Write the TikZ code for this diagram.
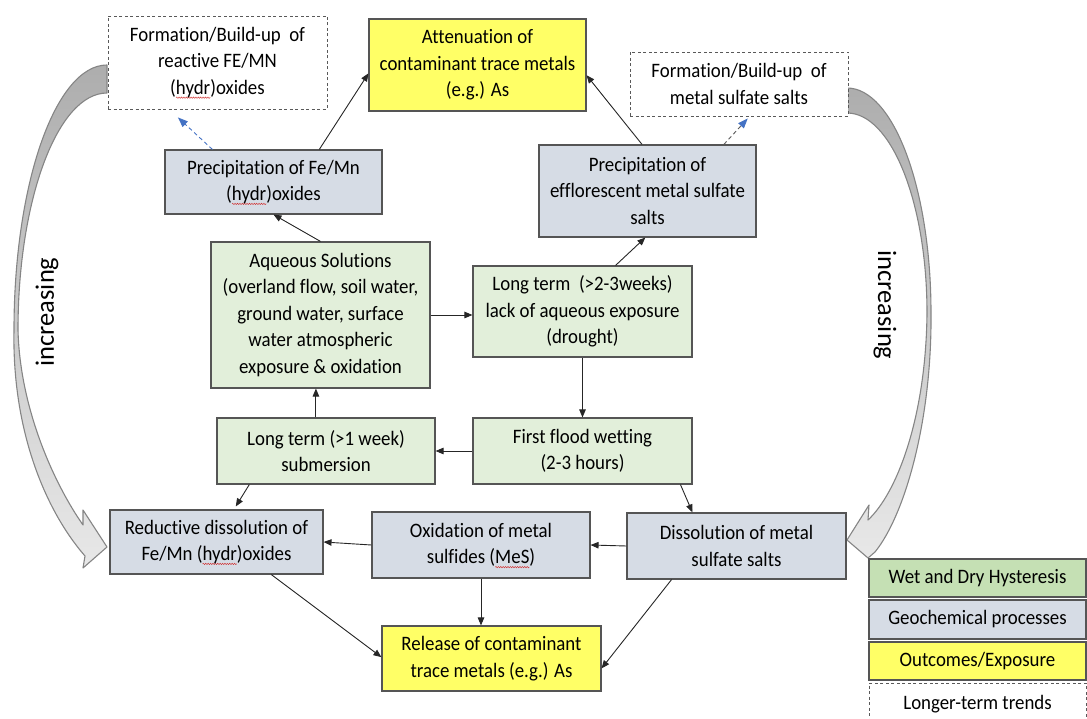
\documentclass[tikz,border=0pt]{standalone}
\usepackage{fontspec}
\setmainfont{Carlito}[FakeStretch=0.92, Ligatures={NoCommon}]
\newfontfamily\trendfont{Carlito}
\usetikzlibrary{arrows.meta,calc,decorations.pathmorphing}

\definecolor{wetfill}{HTML}{E2EFDA}
\definecolor{wetkey}{HTML}{C5E0B4}
\definecolor{geofill}{HTML}{D6DCE5}
\definecolor{outfill}{HTML}{FFFF66}
\definecolor{boxline}{HTML}{555555}
\definecolor{trendline}{HTML}{595959}
\definecolor{linkline}{HTML}{262626}
\definecolor{linkblue}{HTML}{4472C4}
\definecolor{bandline}{HTML}{858585}
\definecolor{spellred}{HTML}{D03030}

% wavy red underline as left by a spell checker
\newsavebox\spellbox
\newlength\spelllen
\newcommand\spell[1]{\sbox\spellbox{#1}\setlength\spelllen{\wd\spellbox}%
  \rlap{\tikz[overlay,baseline=0pt]\draw[spellred,line width=0.45pt,decorate,
    decoration={snake,amplitude=0.7pt,segment length=2.4pt}]
    (0pt,-3.2pt) -- (\spelllen,-3.2pt);}\usebox\spellbox}

\tikzset{
  sz/.style 2 args={minimum width=#1pt, minimum height=#2pt},
  box/.style={draw=boxline, line width=1.1pt, align=center, inner sep=1pt,
    font=\fontsize{20.5}{26.5}\selectfont, text=black},
  wet/.style={box, fill=wetfill},
  geo/.style={box, fill=geofill},
  outc/.style={box, fill=outfill},
  trend/.style={box, draw=trendline, line width=0.9pt, dash pattern=on 3pt off 2.5pt, fill=white},
  conn/.style={draw=linkline, line width=0.9pt, -{Triangle[length=8pt,width=6.5pt]}},
  trendlink/.style={draw=linkblue, line width=0.9pt, dash pattern=on 4pt off 3pt,
    -{Triangle[length=10pt,width=7.5pt]}},
  trendlinkgray/.style={draw=trendline, line width=0.9pt, dash pattern=on 4pt off 3pt,
    -{Triangle[length=10pt,width=7.5pt,color=linkblue]}},
  bigarrow/.style={draw=bandline, line width=1.1pt, line join=round,
    top color=black!32, bottom color=black!9},
  trendword/.style={font=\trendfont\fontsize{26.5}{30}\selectfont, text=black}
}

\begin{document}
\begin{tikzpicture}[x=1pt, y=-1pt]
\useasboundingbox (0,0) rectangle (1087,719);

% curved trend bands
\path[bigarrow] (107,65) .. controls (55.6,65) and (14,183.6) .. (14,330)
  .. controls (12,430) and (45,510) .. (85,556)
  -- (83,568) -- (107,547) -- (83,510) -- (83,525)
  .. controls (55,485) and (20,410) .. (18,330)
  .. controls (18,199.1) and (57.8,93) .. (107,93) -- cycle;
\path[bigarrow] (847,88) .. controls (893.4,88) and (931,188.7) .. (931,313)
  .. controls (932,420) and (905,515) .. (875,552)
  -- (868,558) -- (847,540) -- (869,505) -- (868,520)
  .. controls (898,492) and (926,415) .. (927,313)
  .. controls (927,202.5) and (891.2,113) .. (847,113) -- cycle;

\node[trendword, rotate=90] (incL) at (47,312) {increasing};
\node[trendword, rotate=-90] (incR) at (885,305) {increasing};

% process boxes
\node[trend, sz={219}{93}] (fe) at (217.5,62.5) {Formation/Build-up\ \ of\\reactive FE/MN\\(\spell{hydr})oxides};
\node[outc, sz={217}{92}] (att) at (477.5,65) {Attenuation of\\contaminant trace metals\\(e.g.) As};
\node[trend, sz={218}{64}] (sulf) at (739,84) {Formation/Build-up\ \ of\\metal sulfate salts};
\node[geo, sz={217}{64}] (pfe) at (273.5,182) {Precipitation of Fe/Mn\\(\spell{hydr})oxides};
\node[geo, sz={217}{92}] (peff) at (647.5,191) {Precipitation of\\efflorescent metal sulfate\\salts};
\node[wet, sz={219}{146}] (aq) at (320.5,315) {Aqueous Solutions\\(overland flow, soil water,\\ground water, surface\\water atmospheric\\exposure \& oxidation};
\node[wet, sz={219}{91}] (dry) at (582.5,311.5) {Long term\ \ (>2-3weeks)\\lack of aqueous exposure\\(drought)};
\node[wet, sz={218}{66}] (sub) at (326,451) {Long term (>1 week)\\submersion};
\node[wet, sz={219}{66}] (flood) at (582.5,451) {First flood wetting\\(2-3 hours)};
\node[geo, sz={213}{64}] (red) at (216.5,542) {Reductive dissolution of\\Fe/Mn (\spell{hydr})oxides};
\node[geo, sz={218}{66}] (ox) at (481,545) {Oxidation of metal\\sulfides (\spell{MeS})};
\node[geo, sz={219}{66}] (dis) at (736.5,546) {Dissolution of metal\\sulfate salts};
\node[outc, sz={219}{65}] (rel) at (491.5,658.5) {Release of contaminant\\trace metals (e.g.) As};

% key
\node[wet, fill=wetkey, sz={217}{38}] (k1) at (977.5,578) {Wet and Dry Hysteresis};
\node[geo, sz={217}{39}] (k2) at (977.5,619.5) {Geochemical processes};
\node[outc, sz={217}{38}] (k3) at (977.5,661) {Outcomes/Exposure};
\node[trend, sz={217}{42}] (k4) at (977.5,704) {Longer-term trends};

% connectors
\draw[conn] ($(pfe.north west)!0.71!(pfe.north east)$) -- ($(att.north west)!0.59!(att.south west)$);
\draw[conn] (aq.north) -- (pfe.south);
\draw[trendlink] ($(pfe.north west)!0.22!(pfe.north east)$) -- ($(fe.south west)!0.32!(fe.south east)+(0,8)$);
\draw[conn] ($(peff.north west)!0.475!(peff.north east)$) -- ($(att.north east)!0.61!(att.south east)$);
\draw[trendlinkgray] ($(peff.north west)!0.85!(peff.north east)$) -- ($(sulf.south west)!0.54!(sulf.south east)+(0,2)$);
\draw[conn] ($(dry.north west)!0.65!(dry.north east)$) -- ($(peff.south west)!0.49!(peff.south east)$);
\draw[conn] (aq.east) -- (aq.east -| dry.west);
\draw[conn] (dry.south) -- (flood.north);
\draw[conn] (flood.west) -- (sub.east);
\draw[conn] ($(sub.north west)!0.454!(sub.north east)$) coordinate (s1) -- (s1 |- aq.south);
\draw[conn] ($(sub.south west)!0.15!(sub.south east)$) -- ($(red.north west)!0.59!(red.north east)+(0,-3)$);
\draw[conn] ($(flood.south west)!0.945!(flood.south east)$) -- ($(dis.north west)!0.30!(dis.north east)$);
\draw[conn] (dis.west) -- (ox.east);
\draw[conn] (ox.west) -- (red.east);
\draw[conn] ($(red.south west)!0.756!(red.south east)$) -- ($(rel.north west)!0.48!(rel.south west)$);
\draw[conn] (ox.south) -- (ox.south |- rel.north);
\draw[conn] ($(dis.south west)!0.205!(dis.south east)$) -- ($(rel.north east)!0.65!(rel.south east)$);
\end{tikzpicture}
\end{document}
